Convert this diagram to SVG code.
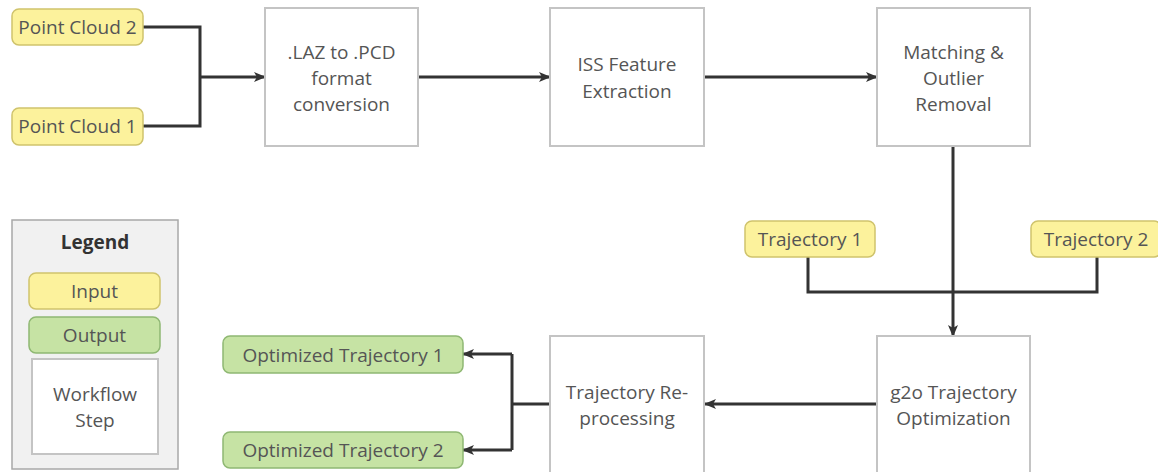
<svg xmlns="http://www.w3.org/2000/svg" width="1158" height="472" viewBox="0 0 1158 472">
<defs>
<marker id="arr" viewBox="0 0 12 12" refX="11" refY="6" markerWidth="12" markerHeight="12" markerUnits="userSpaceOnUse" orient="auto">
<path d="M0,1 L12,6 L0,11 L3,6 z" fill="#333"/>
</marker>
<style>
.t{font-family:"Open Sans","Noto Sans","Liberation Sans",sans-serif;font-size:19px;fill:#555;text-anchor:middle;dominant-baseline:central}
.in{fill:#fcf29c;stroke:#cfc36c;stroke-width:1.5}
.out{fill:#c6e3a4;stroke:#8fb873;stroke-width:1.5}
.step{fill:#fff;stroke:#c4c4c4;stroke-width:2}
.c{fill:none;stroke:#333;stroke-width:3}
</style>
</defs>
<rect width="1158" height="472" fill="#fff"/>
<g id="connectors">
<path class="c" d="M143,27 H200 V126 H143"/>
<path class="c" d="M200,77 H265" marker-end="url(#arr)"/>
<path class="c" d="M418,77 H550" marker-end="url(#arr)"/>
<path class="c" d="M704,77 H877" marker-end="url(#arr)"/>
<path class="c" d="M953,146 V336" marker-end="url(#arr)"/>
<path class="c" d="M808,257 V292 H1097 V257"/>
<path class="c" d="M877,404 H705" marker-end="url(#arr)"/>
<path class="c" d="M550,404 H512"/>
<path class="c" d="M512,354 V450"/>
<path class="c" d="M512,354 H463" marker-end="url(#arr)"/>
<path class="c" d="M512,450 H463" marker-end="url(#arr)"/>
</g>
<g id="pc2"><rect class="in" x="12" y="9" width="131" height="36" rx="7"/><text class="t" x="77.5" y="27">Point Cloud 2</text></g>
<g id="pc1"><rect class="in" x="12" y="108" width="131" height="37" rx="7"/><text class="t" x="77.5" y="126">Point Cloud 1</text></g>
<g id="laz"><rect class="step" x="265" y="8" width="153" height="138"/><text class="t" x="341.5" y="52">.LAZ to .PCD</text><text class="t" x="341.5" y="78">format</text><text class="t" x="341.5" y="104">conversion</text></g>
<g id="iss"><rect class="step" x="550" y="8" width="154" height="138"/><text class="t" x="627" y="64">ISS Feature</text><text class="t" x="627" y="91">Extraction</text></g>
<g id="match"><rect class="step" x="877" y="8" width="153" height="138"/><text class="t" x="953.5" y="52">Matching &amp;</text><text class="t" x="953.5" y="78">Outlier</text><text class="t" x="953.5" y="104">Removal</text></g>
<g id="traj1"><rect class="in" x="745" y="221" width="130" height="36" rx="7"/><text class="t" x="810" y="239">Trajectory 1</text></g>
<g id="traj2"><rect class="in" x="1031" y="221" width="130" height="36" rx="7"/><text class="t" x="1096" y="239">Trajectory 2</text></g>
<g id="g2o"><rect class="step" x="877" y="336" width="153" height="140"/><text class="t" x="953.5" y="392">g2o Trajectory</text><text class="t" x="953.5" y="418">Optimization</text></g>
<g id="reproc"><rect class="step" x="550" y="336" width="154" height="140"/><text class="t" x="627" y="392">Trajectory Re-</text><text class="t" x="627" y="418">processing</text></g>
<g id="opt1"><rect class="out" x="223" y="336" width="240" height="37" rx="7"/><text class="t" x="343" y="354.5">Optimized Trajectory 1</text></g>
<g id="opt2"><rect class="out" x="223" y="432" width="240" height="36" rx="7"/><text class="t" x="343" y="450">Optimized Trajectory 2</text></g>
<g id="legend">
<rect x="12" y="220" width="166" height="249" fill="#f1f1f1" stroke="#a8a8a8" stroke-width="1.5"/>
<text class="t" x="95" y="242" style="font-weight:bold;fill:#333">Legend</text>
<rect class="in" x="29" y="273" width="131" height="36" rx="7"/><text class="t" x="94.5" y="291">Input</text>
<rect class="out" x="29" y="317" width="131" height="36" rx="7"/><text class="t" x="94.5" y="335">Output</text>
<rect class="step" x="32" y="359" width="126" height="95"/><text class="t" x="95" y="394">Workflow</text><text class="t" x="95" y="420">Step</text>
</g>
</svg>
